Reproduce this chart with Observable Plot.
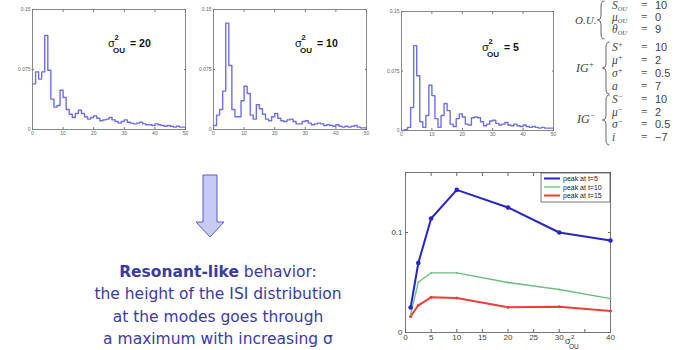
<!DOCTYPE html>
<html><head><meta charset="utf-8">
<script src="https://cdn.jsdelivr.net/npm/d3@7"></script>
<script src="https://cdn.jsdelivr.net/npm/@observablehq/plot@0.6"></script>
<style>
body{margin:0;background:#fff;}
#root{position:relative;width:687px;height:350px;overflow:hidden;background:#fff;}
</style></head><body><div id="root"></div>
<script>
// ISI histograms (bin width 1, bins 0..49)
const hist20 = [0.057,0.072,0.063,0.072,0.1175,0.074,0.038,0.028,0.030,0.049,0.040,0.025,0.019,0.015,0.020,0.024,0.020,0.016,0.013,0.015,0.017,0.014,0.011,0.012,0.013,0.015,0.012,0.010,0.008,0.010,0.012,0.009,0.008,0.007,0.008,0.009,0.007,0.006,0.006,0.005,0.007,0.006,0.005,0.004,0.005,0.004,0.003,0.004,0.003,0.003];
const hist10 = [0.005,0.018,0.025,0.048,0.133,0.080,0.025,0.016,0.016,0.036,0.054,0.045,0.018,0.013,0.031,0.026,0.019,0.013,0.011,0.016,0.020,0.014,0.011,0.010,0.012,0.013,0.010,0.007,0.007,0.010,0.011,0.008,0.006,0.007,0.008,0.007,0.005,0.006,0.005,0.004,0.006,0.004,0.003,0.004,0.003,0.004,0.005,0.003,0.002,0.002];
const hist5 = [0.000,0.001,0.004,0.029,0.107,0.069,0.011,0.004,0.019,0.057,0.044,0.015,0.004,0.019,0.034,0.025,0.008,0.005,0.015,0.021,0.017,0.008,0.007,0.016,0.017,0.016,0.011,0.006,0.008,0.012,0.013,0.009,0.007,0.008,0.010,0.007,0.006,0.008,0.006,0.005,0.007,0.005,0.004,0.005,0.004,0.003,0.004,0.003,0.003,0.003];
const histSigma = ["20","10","5"];
const histXTicks = [0,10,20,30,40,50];
const histYTicks = [0,0.075,0.15];
const histYTickLabels = ["0","0.075","0.15"];

// Peak heights vs sigma^2_OU
const sigmaValues = [1,2.5,5,10,20,30,40];
const peakT5  = [0.025,0.0695,0.114,0.1426,0.125,0.100,0.092];
const peakT10 = [0.0178,0.0503,0.0597,0.0597,0.050,0.043,0.0339];
const peakT15 = [0.0161,0.0272,0.0352,0.0346,0.0252,0.0258,0.0215];
const seriesNames = ["peak at t=5","peak at t=10","peak at t=15"];
const seriesColors = ["#2626c8","#6cbc7e","#e8413b"];
const lineXTicks = [0,5,10,15,20,25,30,35,40];
const lineYTicks = [0,0.1];

// Model parameters
const ouParams = [["S","OU","10"],["μ","OU","0"],["θ","OU","9"]];
const igPlusParams = [["S","+","10"],["μ","+","2"],["σ","+","0.5"],["a","","7"]];
const igMinusParams = [["S","−","10"],["μ","−","2"],["σ","−","0.5"],["i","","−7"]];
const textLines = ["behavior:","the height of the ISI distribution","at the modes goes through","a maximum with increasing σ"];
const boldWord = "Resonant-like";

const root = document.getElementById("root");
function place(el, left, top){ el.style.position="absolute"; el.style.left=left+"px"; el.style.top=top+"px"; root.appendChild(el); }

function histogram(values, left, top, mt, mb, mr){
  const pts = values.map((v,i)=>({x:i,y:v}));
  pts.push({x:values.length, y:values[values.length-1]});
  const ax = {ticks:histXTicks, tickSize:-2, tickPadding:4, stroke:"#777", label:null};
  const ay = {ticks:histYTicks, tickSize:-2, tickPadding:4, stroke:"#777", label:null, tickFormat:d=>histYTickLabels[histYTicks.indexOf(d)]};
  const p = Plot.plot({
    width:200, height:140, marginLeft:32, marginRight:mr, marginTop:mt, marginBottom:mb,
    x:{domain:[0,50]}, y:{domain:[0,0.15]},
    style:{background:"transparent", fontFamily:"Liberation Sans, Arial, sans-serif", fontSize:"5px", color:"#666", overflow:"visible"},
    marks:[
      Plot.frame({stroke:"#8a8a8a"}),
      Plot.axisX({...ax, anchor:"bottom"}),
      Plot.axisX({...ax, anchor:"top", tickFormat:()=>""}),
      Plot.axisY({...ay, anchor:"left"}),
      Plot.axisY({...ay, anchor:"right", tickFormat:()=>""}),
      Plot.line(pts,{x:"x",y:"y",curve:"step-after",stroke:"#6f6fe6",strokeWidth:1.4})
    ]
  });
  place(p,left,top);
}
histogram(hist20, 0, 0, 9, 11, 15);
histogram(hist10, 181, 0, 9, 11, 15);
histogram(hist5, 369, 0, 11, 10, 16);

// peaks chart
const series = [peakT5, peakT10, peakT15];
const rows = series.flatMap((arr,j)=>arr.map((y,i)=>({x:sigmaValues[i], y, s:seriesNames[j]})));
const lx = {ticks:lineXTicks, tickSize:-3, tickPadding:5, label:null, stroke:"#666"};
const ly = {ticks:lineYTicks, tickSize:-3, tickPadding:6, label:null, stroke:"#666"};
const lp = Plot.plot({
  width:300, height:185, marginLeft:25, marginRight:70, marginTop:7, marginBottom:18,
  x:{domain:[0,40]}, y:{domain:[0,0.16]},
  color:{domain:seriesNames, range:seriesColors},
  style:{background:"transparent", fontFamily:"Liberation Sans, Arial, sans-serif", fontSize:"8px", color:"#444", overflow:"visible"},
  marks:[
    Plot.frame({stroke:"#777"}),
    Plot.axisX({...lx, anchor:"bottom", tickFormat:d=>d===35?"":d}),
    Plot.axisX({...lx, anchor:"top", tickFormat:()=>""}),
    Plot.axisY({...ly, anchor:"left", tickFormat:d=>d===0?"0":d3.format(".1f")(d)}),
    Plot.axisY({...ly, anchor:"right", tickFormat:()=>""}),
    Plot.line(rows.filter(d=>d.s===seriesNames[1]),{x:"x",y:"y",stroke:"s",strokeWidth:1.3}),
    Plot.line(rows.filter(d=>d.s===seriesNames[2]),{x:"x",y:"y",stroke:"s",strokeWidth:2}),
    Plot.line(rows.filter(d=>d.s===seriesNames[0]),{x:"x",y:"y",stroke:"s",strokeWidth:2}),
    Plot.dot(rows.filter(d=>d.s===seriesNames[0]),{x:"x",y:"y",fill:"s",r:2.3}),
    Plot.dot(rows.filter(d=>d.s===seriesNames[2]),{x:"x",y:"y",fill:"s",r:1.5}),
    Plot.dot(rows.filter(d=>d.s===seriesNames[1]),{x:"x",y:"y",fill:"s",r:0.9})
  ]
});
place(lp,380,165);

// overlay: annotations
const NS="http://www.w3.org/2000/svg";
const ov = document.createElementNS(NS,"svg");
ov.setAttribute("width",687); ov.setAttribute("height",350);
ov.style.position="absolute"; ov.style.left="0"; ov.style.top="0"; ov.style.pointerEvents="none";
let h = "";
const sigmaPos = [[108,47],[295,47],[482,51]];
histSigma.forEach((v,i)=>{
  const [x,y]=sigmaPos[i];
  h += `<g font-family="Liberation Sans, Arial, sans-serif" fill="#111">
    <text x="${x}" y="${y}" font-size="11">σ</text>
    <text x="${x+6.5}" y="${y-7}" font-size="7.5" font-weight="bold">2</text>
    <text x="${x+5}" y="${y+5.5}" font-size="8" font-weight="bold">OU</text>
    <text x="${x+22}" y="${y}" font-size="10.5" font-weight="bold">= ${v}</text></g>`;
});
function brace(x,y1,y2){const ym=(y1+y2)/2;return `<path d="M${x+3.5},${y1} Q${x},${y1} ${x},${y1+5} L${x},${ym-4} Q${x},${ym} ${x-3.5},${ym} Q${x},${ym} ${x},${ym+4} L${x},${y2-5} Q${x},${y2} ${x+3.5},${y2}" fill="none" stroke="#555" stroke-width="0.9"/>`;}
function paramBlock(params, ys){
  let s="";
  params.forEach((p,i)=>{
    const y=ys[i];
    const sub = p[1]==="OU" ? `<tspan font-size="6.5" dy="2">OU</tspan>` : (p[1] ? `<tspan font-size="7.5" dy="-4">${p[1]}</tspan>` : "");
    s += `<text x="612" y="${y}" font-style="italic">${p[0]}${sub}</text>`;
    s += `<text x="641" y="${y}">=</text><text x="655" y="${y}" font-family="Liberation Sans, Arial, sans-serif" font-size="11">${p[2]}</text>`;
  });
  return s;
}
h += `<g font-family="Liberation Serif, DejaVu Serif, serif" font-size="11.5" fill="#444">
  <text x="575" y="24" font-style="italic" font-size="11">O.U.</text>
  <text x="576" y="72" font-style="italic" font-size="12">IG<tspan font-size="8" dy="-5">+</tspan></text>
  <text x="577" y="123" font-style="italic" font-size="12">IG<tspan font-size="8" dy="-5">−</tspan></text>
  ${paramBlock(ouParams,[9,21,33])}
  ${paramBlock(igPlusParams,[51,64,77,90])}
  ${paramBlock(igMinusParams,[103,116,128,141])}
  ${brace(601,1,39)}${brace(606,42,94)}${brace(606,95,145)}
</g>`;
h += `<polygon points="203,175 217,175 217,222 224,222 210,237 196,222 203,222" fill="#c6caf5" stroke="#5a5ec8" stroke-width="1"/>`;
h += `<g font-family="DejaVu Sans, sans-serif" font-size="15.5" fill="#3b3ba2" text-anchor="middle">
  <text x="218" y="277"><tspan font-weight="bold">${boldWord}</tspan> ${textLines[0]}</text>
  <text x="218" y="299">${textLines[1]}</text>
  <text x="218" y="322">${textLines[2]}</text>
  <text x="218" y="344">${textLines[3]}</text></g>`;
h += `<rect x="541" y="173" width="69" height="29" fill="#fff" stroke="#444" stroke-width="0.7"/>`;
[178.5,187,195.5].forEach((y,i)=>{
  h += `<line x1="544" x2="560" y1="${y}" y2="${y}" stroke="${seriesColors[i]}" stroke-width="${i===1?1.3:2}"/>`;
  h += `<text x="563" y="${y+2.5}" font-family="Liberation Sans, Arial, sans-serif" font-size="7" fill="#222">${seriesNames[i]}</text>`;
});
h += `<g font-family="Liberation Sans, Arial, sans-serif" fill="#333"><text x="565" y="344" font-size="9">σ</text><text x="571" y="339" font-size="6">2</text><text x="569" y="349" font-size="6.5">OU</text></g>`;
ov.innerHTML = h;
root.appendChild(ov);
</script></body></html>
